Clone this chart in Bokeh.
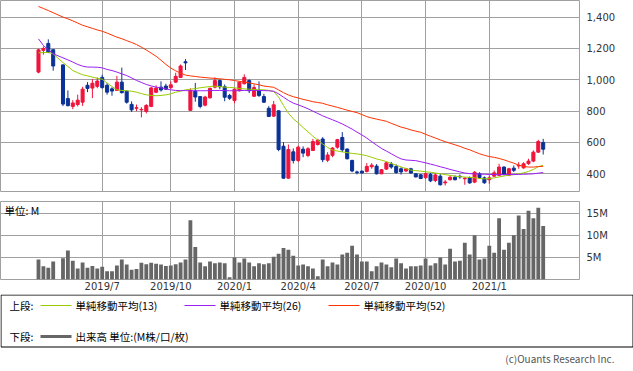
import numpy as np
import pandas as pd
from bokeh.plotting import figure
from bokeh.layouts import column
from bokeh.models import (ColumnDataSource, Range1d, FixedTicker, NumeralTickFormatter,
                          PrintfTickFormatter, Label, GlobalInlineStyleSheet)
from bokeh.core.properties import value
from bokeh.embed import file_html
from bokeh.resources import INLINE

# ---------------- data ----------------
first_week = "2019-04-01"
n_slots = 104
closed_weeks = ["2019-04-29"]          # Golden Week 2019: no trading

opens = [1049, 1188, 1232, 1192, 1095, 880, 830, 842, 857, 965,
         947, 958, 1015, 965, 942, 932, 985, 928, 843, 818,
         808, 798, 830, 920, 953, 960, 950, 985, 1015, 1115,
         805, 928, 893, 838, 885, 953, 995, 955, 900, 868,
         930, 975, 995, 895, 932, 893, 818, 768, 802, 576,
         372, 540, 485, 557, 517, 549, 587, 622, 487, 518,
         570, 632, 558, 485, 412, 417, 415, 445, 449, 400,
         430, 462, 447, 432, 418, 432, 400, 394, 375, 396,
         357, 385, 342, 362, 378, 384, 368, 374, 347, 400,
         374, 362, 385, 390, 443, 390, 436, 450, 438, 465,
         481, 538, 600]
highs = [1198, 1213, 1258, 1195, 1098, 932, 870, 905, 955, 985,
         1005, 1015, 1032, 980, 952, 1025, 1078, 930, 862, 842,
         825, 845, 955, 965, 990, 975, 990, 1045, 1098, 1132,
         945, 980, 895, 898, 950, 1015, 1003, 970, 910, 945,
         990, 1035, 1003, 970, 990, 910, 832, 865, 805, 602,
         587, 562, 580, 575, 570, 623, 623, 634, 538, 570,
         623, 666, 562, 490, 420, 420, 468, 468, 462, 430,
         478, 475, 460, 442, 438, 438, 402, 398, 410, 406,
         404, 400, 360, 390, 390, 395, 378, 383, 417, 410,
         383, 389, 421, 464, 447, 438, 453, 474, 474, 496,
         549, 617, 623]
lows = [1042, 1160, 1170, 1058, 832, 830, 812, 830, 833, 921,
        883, 946, 944, 905, 898, 930, 912, 848, 795, 800,
        760, 785, 825, 915, 925, 935, 942, 980, 1012, 1062,
        803, 860, 818, 830, 880, 945, 940, 863, 872, 850,
        925, 970, 915, 890, 890, 852, 762, 765, 544, 370,
        370, 466, 475, 506, 506, 545, 580, 474, 475, 506,
        560, 538, 492, 410, 396, 403, 408, 432, 396, 398,
        425, 432, 400, 395, 410, 400, 377, 366, 368, 347,
        347, 325, 325, 358, 358, 368, 330, 336, 340, 368,
        336, 336, 380, 385, 390, 385, 411, 432, 432, 457,
        474, 534, 523]
closes = [1191, 1200, 1175, 1088, 845, 835, 852, 870, 940, 945,
          978, 992, 950, 921, 928, 985, 918, 857, 808, 822,
          811, 836, 948, 947, 935, 940, 968, 1022, 1088, 1108,
          932, 890, 830, 890, 945, 995, 955, 889, 882, 940,
          985, 1015, 930, 950, 900, 857, 766, 840, 555, 372,
          555, 485, 570, 532, 560, 606, 615, 490, 520, 564,
          618, 553, 496, 418, 408, 405, 447, 455, 400, 426,
          470, 443, 408, 412, 432, 405, 380, 370, 400, 355,
          393, 330, 348, 378, 362, 380, 372, 342, 410, 376,
          343, 374, 406, 443, 396, 432, 422, 455, 464, 481,
          538, 606, 557]
volumes_m = [4.55, 3.0, 2.7, 4.1, 4.85, 6.6, 4.3, 2.5, 3.9, 2.7,
             3.1, 2.5, 2.9, 1.9, 1.9, 3.2, 4.55, 3.4, 2.2, 2.4,
             3.8, 3.5, 3.8, 3.6, 3.4, 3.1, 3.2, 3.5, 3.9, 4.55,
             13.5, 7.4, 3.9, 3.0, 4.1, 3.7, 3.9, 3.7, 0.5, 5.0,
             3.9, 4.8, 3.9, 3.0, 3.7, 3.5, 3.7, 5.2, 5.9, 7.2,
             6.8, 5.4, 3.2, 3.4, 3.0, 2.5, 0.75, 4.55, 3.0, 3.9,
             3.4, 5.7, 6.1, 7.7, 5.7, 4.1, 4.1, 1.9, 3.0, 3.9,
             3.4, 2.8, 4.8, 3.7, 2.5, 3.0, 3.0, 3.2, 4.8, 3.2,
             3.7, 5.0, 3.4, 7.0, 4.1, 4.3, 8.4, 5.7, 10.1, 4.55,
             4.8, 7.7, 6.1, 14.0, 6.8, 8.4, 10.1, 14.6, 11.5, 15.7,
             14.0, 16.4, 12.2]
ma13 = [1172, 1174, 1175, 1165, 1110, 1085, 1059, 1045, 1032, 1025,
        1017, 1010, 1004, 979, 957, 936, 932, 930, 927, 921,
        912, 904, 900, 898, 900, 904, 910, 921, 927, 936,
        940, 944, 949, 953, 957, 959, 957, 953, 951, 949,
        944, 942, 940, 938, 936, 936, 932, 925, 889, 836,
        787, 751, 725, 695, 668, 640, 615, 590, 568, 552,
        545, 540, 535, 530, 527, 522, 515, 505, 495, 487,
        478, 466, 455, 444, 433, 424, 420, 417, 413, 410,
        405, 400, 395, 390, 385, 382, 379, 377, 375, 370,
        368, 370, 374, 380, 386, 391, 395, 400, 406, 415,
        428, 445, 455]
ma26 = [1261, 1219, 1191, 1166, 1140, 1127, 1113, 1098, 1087, 1081,
        1081, 1080, 1076, 1066, 1059, 1049, 1038, 1027, 1012, 996,
        983, 970, 961, 953, 949, 942, 936, 932, 931, 931,
        930, 930, 930, 930, 931, 932, 932, 931, 930, 930,
        931, 932, 932, 932, 932, 931, 930, 927, 910, 889,
        868, 851, 840, 828, 815, 800, 785, 770, 757, 745,
        732, 718, 702, 685, 666, 648, 628, 605, 583, 562,
        545, 528, 510, 495, 488, 486, 484, 477, 470, 462,
        454, 445, 437, 428, 420, 412, 405, 401, 399, 398,
        397, 396, 395, 395, 395, 395, 395, 396, 397, 398,
        400, 404, 408]
ma52 = [1468, 1455, 1442, 1428, 1400, 1389, 1376, 1362, 1348, 1338,
        1328, 1318, 1310, 1298, 1285, 1272, 1262, 1250, 1238, 1225,
        1208, 1190, 1170, 1150, 1125, 1098, 1075, 1057, 1042, 1030,
        1025, 1021, 1017, 1014, 1011, 1009, 1006, 1003, 1000, 995,
        990, 985, 980, 974, 968, 960, 956, 952, 935, 918,
        903, 892, 884, 875, 868, 860, 855, 850, 840, 832,
        824, 815, 806, 798, 790, 778, 765, 756, 749, 742,
        735, 722, 710, 698, 690, 680, 672, 665, 652, 640,
        628, 616, 605, 595, 585, 575, 563, 553, 540, 528,
        518, 510, 505, 498, 489, 478, 468, 455, 447, 443,
        443, 446, 448]

quarter_months = ["2019-07", "2019-10", "2020-01", "2020-04", "2020-07", "2020-10", "2021-01"]
price_ticks = [400, 600, 800, 1000, 1200, 1400]
volume_ticks = [5, 10, 15]
legend_prefix = ["上段:", "下段:"]
ma_labels = ["単純移動平均(13)", "単純移動平均(26)", "単純移動平均(52)"]
volume_label = "出来高 単位:(M株/口/枚)"
unit_label = "単位: M"
copyright_text = "(c)Ouants Research Inc."

# ---------------- derived ----------------
slots = pd.date_range(first_week, periods=n_slots, freq="7D")
keep = ~slots.isin(pd.to_datetime(closed_weeks))
idx = np.arange(n_slots)[keep]

tick_idx, tick_lab = [], []
for qm in quarter_months:
    y, m = map(int, qm.split("-"))
    hit = np.where((slots.year == y) & (slots.month == m))[0]
    tick_idx.append(int(hit[0]))
    tick_lab.append(f"{y}/{m}")

UP, DOWN = "#f0143c", "#0a3296"
C13, C26, C52 = "#99cc00", "#9a1ff5", "#ff3300"
o = np.array(opens, float); c = np.array(closes, float)
colors = [UP if cc >= oo else DOWN for oo, cc in zip(o, c)]
src = ColumnDataSource(dict(x=idx, h=highs, l=lows, top=np.maximum(o, c), bot=np.minimum(o, c), color=colors))

GRID = "#a0a0a0"
AXFONT = "DejaVu Sans"
JPFONT = "Noto Sans CJK JP"
x_rng = Range1d(-7.755, 110.41)

def style_axis(ax, standoff):
    ax.axis_line_color = None
    ax.major_tick_line_color = None
    ax.minor_tick_line_color = None
    ax.major_tick_out = 0
    ax.major_tick_in = 0
    ax.minor_tick_out = 0
    ax.minor_tick_in = 0
    ax.major_label_standoff = standoff
    ax.major_label_text_font = AXFONT
    ax.major_label_text_font_size = "10px"
    ax.major_label_text_color = "#333333"

# ---------------- price panel ----------------
p1 = figure(width=633, height=201, x_range=x_rng, y_range=Range1d(287, 1506),
            output_backend="svg", toolbar_location=None,
            x_axis_location=None, y_axis_location="right",
            min_border_left=0, min_border_right=54, min_border_top=0, min_border_bottom=10)
p1.outline_line_color = GRID
p1.xgrid.ticker = FixedTicker(ticks=tick_idx)
p1.ygrid.ticker = FixedTicker(ticks=price_ticks)
p1.grid.grid_line_color = GRID
p1.yaxis.ticker = FixedTicker(ticks=price_ticks)
p1.yaxis.formatter = NumeralTickFormatter(format="0,0")
style_axis(p1.yaxis[0], 7)

p1.segment(x0="x", y0="h", x1="x", y1="l", line_color="color", line_width=1, source=src)
p1.vbar(x="x", width=0.62, top="top", bottom="bot", fill_color="color",
        line_color="color", line_width=1, source=src)
p1.line(idx, ma13, line_color=C13, line_width=1)
p1.line(idx, ma26, line_color=C26, line_width=1)
p1.line(idx, ma52, line_color=C52, line_width=1)

# ---------------- volume panel ----------------
p2 = figure(width=633, height=93, x_range=x_rng, y_range=Range1d(0, 17.8),
            output_backend="svg", toolbar_location=None,
            x_axis_location="below", y_axis_location="right",
            min_border_left=0, min_border_right=54, min_border_top=0, min_border_bottom=13)
p2.outline_line_color = GRID
p2.xgrid.ticker = FixedTicker(ticks=tick_idx)
p2.ygrid.ticker = FixedTicker(ticks=volume_ticks)
p2.grid.grid_line_color = GRID
p2.xaxis.ticker = FixedTicker(ticks=tick_idx)
p2.xaxis.major_label_overrides = {t: lab for t, lab in zip(tick_idx, tick_lab)}
style_axis(p2.xaxis[0], 1)
p2.yaxis.ticker = FixedTicker(ticks=volume_ticks)
p2.yaxis.formatter = PrintfTickFormatter(format="%dM")
style_axis(p2.yaxis[0], 7)
p2.vbar(x=idx, top=volumes_m, bottom=0, width=0.78, fill_color="#666666", line_color=None)
p2.add_layout(Label(x=4, y=77, x_units="screen", y_units="screen", text=unit_label,
                    text_font=JPFONT, text_font_size="10.5px", text_baseline="top",
                    text_color="#000000"))

top_part = column(p1, p2, spacing=0)

# ---------------- legend / footer ----------------
p3 = figure(width=633, height=77, x_range=Range1d(0, 633), y_range=Range1d(77, 0),
            output_backend="svg", toolbar_location=None,
            x_axis_location=None, y_axis_location=None,
            min_border=0, min_border_left=0, min_border_right=0,
            min_border_top=0, min_border_bottom=0)
p3.grid.visible = False
p3.outline_line_color = None
p3.quad(left=[0.5], right=[632.5], top=[0.5], bottom=[52.5], fill_color=None,
        line_color="#000000", line_width=1)
p3.text(x=[9, 9], y=[11, 42], text=legend_prefix, text_font=value(JPFONT),
        text_font_size="10.5px", text_baseline="middle", text_color="#000000")
for x0, col, lab in zip([40, 184, 328], [C13, C26, C52], ma_labels):
    p3.segment(x0=[x0], y0=[11], x1=[x0 + 31], y1=[11], line_color=col, line_width=1)
    p3.text(x=[x0 + 35], y=[11], text=[lab], text_font=value(JPFONT),
            text_font_size="10.5px", text_baseline="middle", text_color="#000000")
p3.segment(x0=[40], y0=[42], x1=[71], y1=[42], line_color="#666666", line_width=3)
p3.text(x=[75], y=[42], text=[volume_label], text_font=value(JPFONT),
        text_font_size="10.5px", text_baseline="middle", text_color="#000000")
p3.text(x=[614], y=[64], text=[copyright_text], text_font=value(JPFONT),
        text_font_size="10px", text_baseline="middle", text_align="right",
        text_color="#555555")

layout = column(top_part, p3, spacing=0,
                stylesheets=[GlobalInlineStyleSheet(css="html, body { margin: 0; padding: 0; }")])

open("out.html", "w").write(file_html(layout, INLINE))
